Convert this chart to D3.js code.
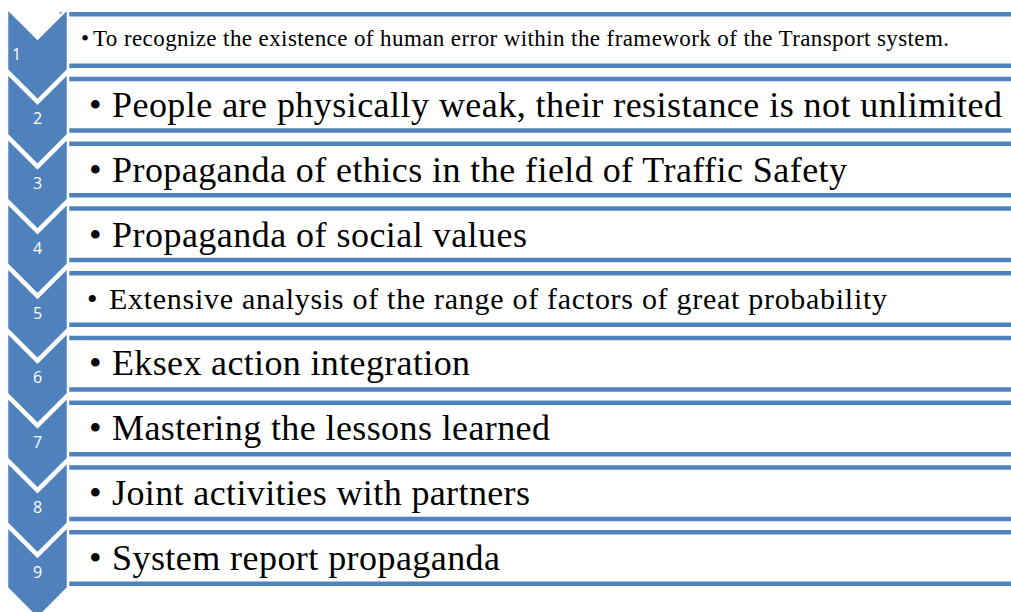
<!DOCTYPE html>
<html>
<head>
<meta charset="utf-8">
<script src="https://cdn.jsdelivr.net/npm/d3@7"></script>
<style>
  html, body { margin: 0; padding: 0; background: #ffffff; }
  svg { display: block; }
</style>
</head>
<body>
<svg id="chart" width="1011" height="612"></svg>
<script>
// ---- data ----
const steps = ["1", "2", "3", "4", "5", "6", "7", "8", "9"];
const items = [
  "To recognize the existence of human error within the framework of the Transport system.",
  "People are physically weak, their resistance is not unlimited",
  "Propaganda of ethics in the field of Traffic Safety",
  "Propaganda of social values",
  "Extensive analysis of the range of factors of great probability",
  "Eksex action integration",
  "Mastering the lessons learned",
  "Joint activities with partners",
  "System report propaganda"
];

// ---- layout / style ----
const blue = "#4f81bd";
const svg = d3.select("#chart");

const y = d3.scaleBand().domain(steps).range([8, 8 + 64.75 * steps.length]).paddingInner(0);

const chevX0 = 7, chevX1 = 68, chevMid = (chevX0 + chevX1) / 2;
const notch = 30.5, body = 62;

const fontSize = d => d === 0 ? 23 : d === 4 ? 30 : 36;
const textStart = [93, 112, 112, 112, 109, 112, 112, 112, 112];
const textEnd   = [949, 1002, 847, 527, 887, 470, 550, 530, 500];
const bulletX   = [81, 89, 89, 89, 87, 89, 89, 89, 89];
const baseOff   = [34, 40.25, 40.5, 40.75, 38, 39.25, 39.5, 39.75, 40];

// boxes
const boxes = svg.append("g");
steps.forEach((s) => {
  const top = y(s) + 4;
  boxes.append("rect")
    .attr("x", 62).attr("y", top + 2.25)
    .attr("width", 1000).attr("height", 51.5)
    .attr("fill", "#ffffff")
    .attr("stroke", blue).attr("stroke-width", 4.5);
});

// chevrons
const chevs = svg.append("g");
steps.forEach((s, i) => {
  const t = y(s);
  const p = d3.path();
  p.moveTo(chevX0, t);
  p.lineTo(chevMid, t + notch);
  p.lineTo(chevX1, t);
  p.lineTo(chevX1, t + body);
  p.lineTo(chevMid, t + body + notch);
  p.lineTo(chevX0, t + body);
  p.closePath();
  chevs.append("path")
    .attr("d", p.toString())
    .attr("fill", blue)
    .attr("stroke", "#ffffff").attr("stroke-width", 2.5)
    .attr("stroke-linejoin", "miter");
  chevs.append("text")
    .attr("x", i === 0 ? 16.5 : chevMid)
    .attr("y", t + 51.5)
    .attr("text-anchor", "middle")
    .attr("fill", "#ffffff")
    .attr("font-family", "'Open Sans', 'Liberation Sans', sans-serif")
    .attr("font-size", 16)
    .text(s);
});

// texts
const texts = svg.append("g")
  .attr("font-family", "'Liberation Serif', 'Times New Roman', serif")
  .attr("fill", "#000000");
steps.forEach((s, i) => {
  const top = y(s) + 4;
  const fs = fontSize(i);
  const base = top + baseOff[i];
  texts.append("text")
    .attr("x", bulletX[i]).attr("y", base)
    .attr("font-size", fs)
    .text("\u2022");
  texts.append("text")
    .attr("x", textStart[i]).attr("y", base)
    .attr("font-size", fs)
    .attr("textLength", textEnd[i] - textStart[i])
    .attr("lengthAdjust", "spacing")
    .text(items[i]);
});
</script>
</body>
</html>
